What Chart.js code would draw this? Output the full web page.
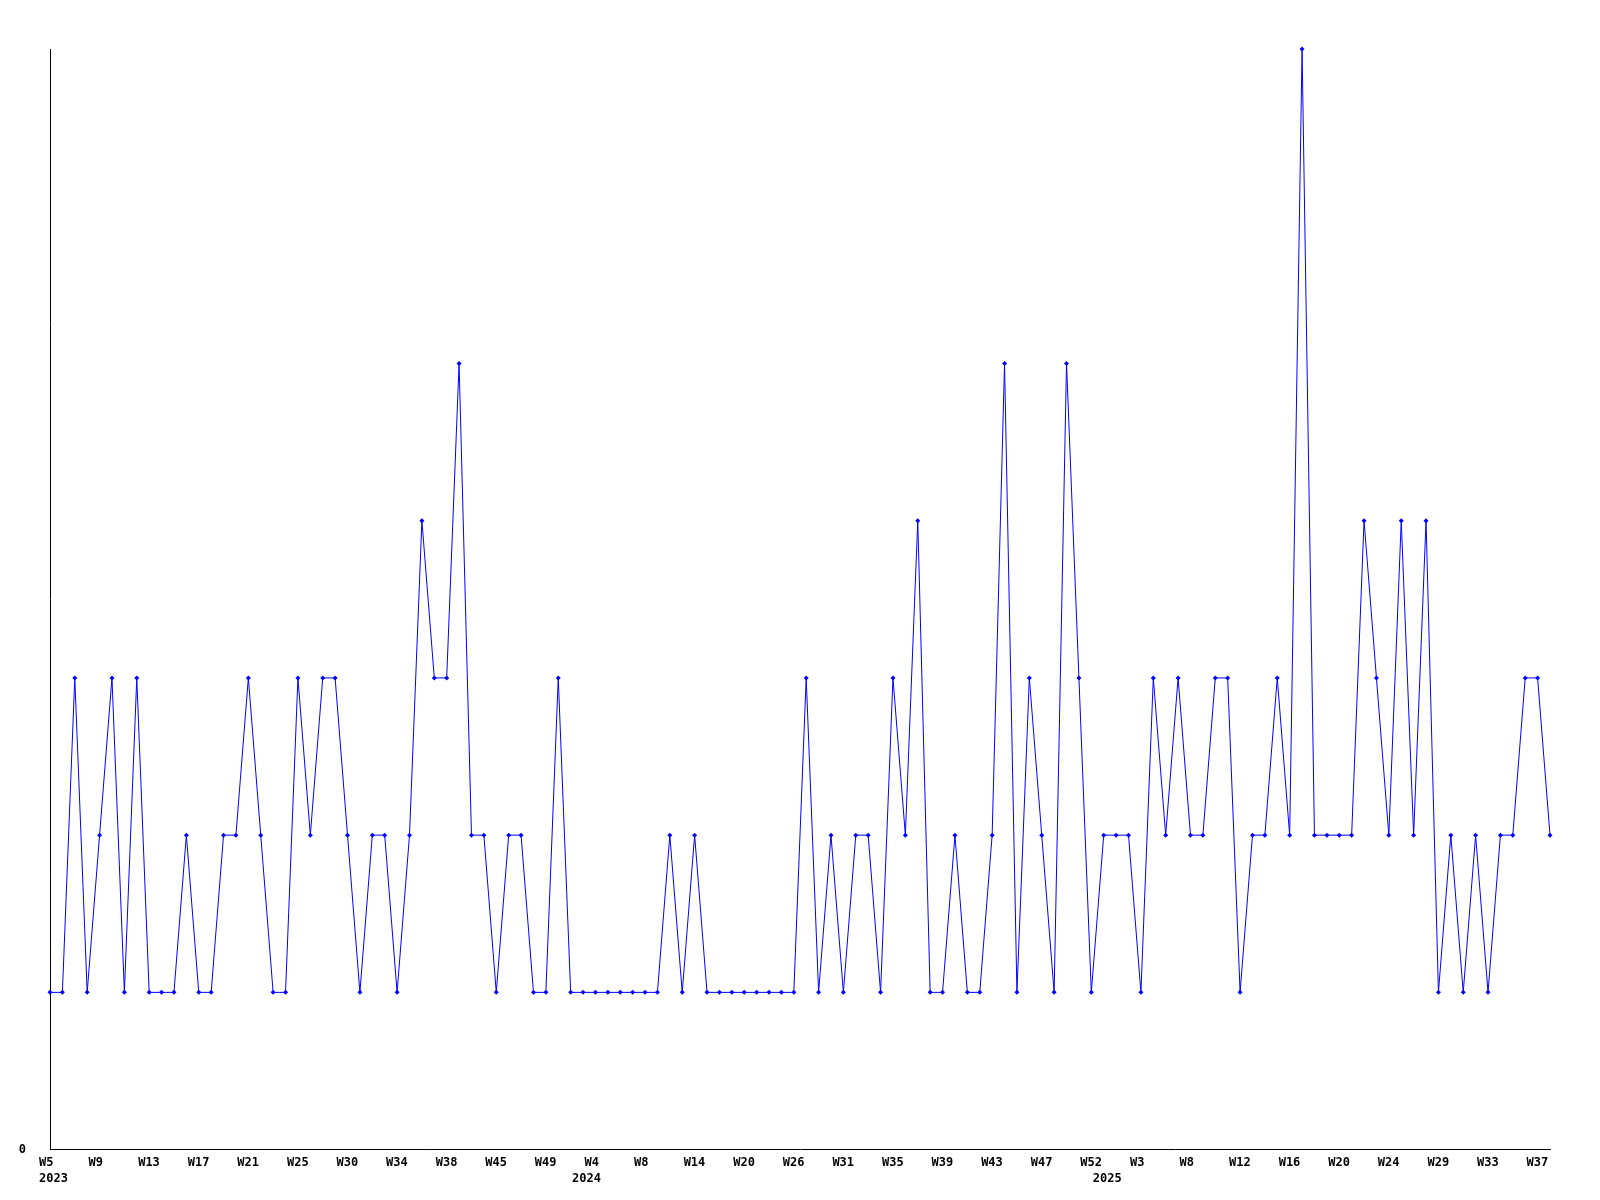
<!DOCTYPE html>
<html>
<head>
<meta charset="utf-8">
<title>Weekly chart</title>
<script src="https://cdn.jsdelivr.net/npm/chart.js@4/dist/chart.umd.min.js"></script>
<style>
  html, body { margin: 0; padding: 0; background: #fff; }
  canvas { display: block; }
</style>
</head>
<body>
<canvas id="weekChart" width="1600" height="1200"></canvas>
<script>
// week label of every point (only every 4th one is printed)
const weeks = [
  "W5", "W6", "W7", "W8", "W9", "W10", "W11", "W12", "W13", "W14",
  "W15", "W16", "W17", "W18", "W19", "W20", "W21", "W22", "W23", "W24",
  "W25", "W26", "W27", "W29", "W30", "W31", "W32", "W33", "W34", "W35",
  "W36", "W37", "W38", "W39", "W41", "W43", "W45", "W46", "W47", "W48",
  "W49", "W50", "W52", "W2", "W4", "W5", "W6", "W7", "W8", "W10",
  "W11", "W13", "W14", "W15", "W17", "W18", "W20", "W22", "W23", "W25",
  "W26", "W27", "W28", "W30", "W31", "W32", "W33", "W34", "W35", "W36",
  "W37", "W38", "W39", "W40", "W41", "W42", "W43", "W44", "W45", "W46",
  "W47", "W48", "W50", "W51", "W52", "W0", "W1", "W2", "W3", "W4",
  "W5", "W7", "W8", "W9", "W10", "W11", "W12", "W13", "W14", "W15",
  "W16", "W17", "W18", "W19", "W20", "W21", "W22", "W23", "W24", "W25",
  "W26", "W28", "W29", "W30", "W31", "W32", "W33", "W34", "W35", "W36",
  "W37", "W38"
];

const years = ["2023", "2024", "2025"];
const yearFirstPoint = [0, 43, 85];

const counts = [
  1, 1, 3, 1, 2, 3, 1, 3, 1, 1,
  1, 2, 1, 1, 2, 2, 3, 2, 1, 1,
  3, 2, 3, 3, 2, 1, 2, 2, 1, 2,
  4, 3, 3, 5, 2, 2, 1, 2, 2, 1,
  1, 3, 1, 1, 1, 1, 1, 1, 1, 1,
  2, 1, 2, 1, 1, 1, 1, 1, 1, 1,
  1, 3, 1, 2, 1, 2, 2, 1, 3, 2,
  4, 1, 1, 2, 1, 1, 2, 5, 1, 3,
  2, 1, 5, 3, 1, 2, 2, 2, 1, 3,
  2, 3, 2, 2, 3, 3, 1, 2, 2, 3,
  2, 7, 2, 2, 2, 2, 4, 3, 2, 4,
  2, 4, 1, 2, 1, 2, 1, 2, 2, 3,
  3, 2
];

const yMax = 7;
const labelEvery = 4;

Chart.defaults.font.family = "'DejaVu Sans Mono', monospace";
Chart.defaults.font.size = 12;
Chart.defaults.font.weight = "bold";
Chart.defaults.color = "#000";

const ctx = document.getElementById("weekChart").getContext("2d");
new Chart(ctx, {
  type: "line",
  data: {
    labels: weeks,
    datasets: [
      {
        data: counts,
        borderColor: "#0000ff",
        backgroundColor: "#0000ff",
        borderWidth: 1,
        pointStyle: "rectRot",
        pointRadius: 2.5,
        pointBorderWidth: 0,
        tension: 0,
        clip: false,
      },
    ],
  },
  options: {
    responsive: false,
    animation: false,
    layout: { padding: { left: 19, right: 50, top: 49, bottom: 8 } },
    plugins: {
      legend: { display: false },
      tooltip: { enabled: false },
    },
    scales: {
      x: {
        offset: false,
        grid: { display: false, drawTicks: false },
        border: { display: true, color: "#000", width: 1 },
        ticks: {
          autoSkip: false,
          maxRotation: 0,
          minRotation: 0,
          align: "start",
          labelOffset: -11,
          padding: 5,
          font: { lineHeight: 1.35 },
          callback: (value, index) => {
            const w = index % labelEvery === 0 ? weeks[index] : "";
            const y = yearFirstPoint.indexOf(index);
            if (y >= 0) return [w, years[y]];
            return w;
          },
        },
      },
      y: {
        min: 0,
        max: yMax,
        grid: { display: false, drawTicks: false },
        border: { display: true, color: "#000", width: 1 },
        afterFit: (scale) => {
          scale.width = 31;
        },
        ticks: {
          stepSize: 1,
          padding: 24,
          callback: (v) => (v === 0 ? "0" : ""),
        },
      },
    },
  },
});
</script>
</body>
</html>
